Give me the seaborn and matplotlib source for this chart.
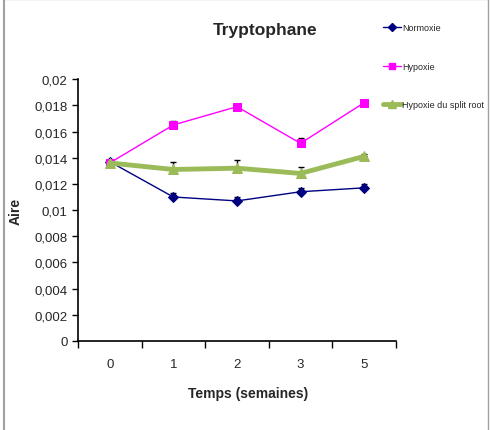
import matplotlib
matplotlib.use("Agg")
import matplotlib.pyplot as plt
import seaborn as sns
import numpy as np
import pandas as pd
from matplotlib.lines import Line2D

# data
semaines = ["0", "1", "2", "3", "5"]
normoxie = [0.0137, 0.0110, 0.0107, 0.0114, 0.0117]
normoxie_err = [0.0001, 0.0003, 0.0003, 0.0003, 0.0003]
hypoxie = [0.0136, 0.0165, 0.0179, 0.0151, 0.0182]
hypoxie_err = [0.0001, 0.0003, 0.0002, 0.0004, 0.0002]
split_root = [0.0136, 0.0131, 0.0132, 0.0128, 0.0141]
split_err = [0.0002, 0.0006, 0.0006, 0.0005, 0.0002]
series_names = ["Normoxie", "Hypoxie", "Hypoxie du split root"]

sns.set_style("white")
plt.rcParams["font.family"] = ["Liberation Sans", "DejaVu Sans"]

fig = plt.figure(figsize=(4.9, 4.31), dpi=100)
ax = fig.add_axes([0.159, 0.2065, 0.649, 0.6075])

pos = np.arange(len(semaines))
styles = [
    (normoxie, normoxie_err, "#000080", "D", 1.0, 5),
    (hypoxie, hypoxie_err, "#FF00FF", "s", 1.0, 6),
    (split_root, split_err, "#9BBB59", "^", 3.5, 7),
]
handles = []
for name, (vals, err, col, mk, lw, ms) in zip(series_names, styles):
    df = pd.DataFrame({"x": pos, "y": vals})
    ax.errorbar(pos, vals, yerr=[np.zeros(len(vals)), err], fmt="none",
                ecolor="black", elinewidth=1, capsize=2.5, capthick=1, zorder=1)
    sns.lineplot(data=df, x="x", y="y", ax=ax, color=col, linewidth=lw,
                 marker=mk, markersize=ms, markeredgecolor=col, zorder=3)
    handles.append(Line2D([0], [0], color=col, linewidth=lw, marker=mk,
                          markersize=ms - 1, markeredgecolor=col, label=name))

ax.set_xlim(-0.5, len(semaines) - 0.5)
ax.set_ylim(0, 0.02)
ax.set_xticks(np.arange(-0.5, len(semaines), 1.0))
ax.set_xticklabels([])
ax.set_xticks(pos, minor=True)
ax.set_xticklabels(semaines, minor=True)
ax.tick_params(axis="x", which="major", direction="out", length=5, width=1, color="black", bottom=True)
ax.tick_params(axis="x", which="minor", length=0, pad=12, labelsize=9.5)
yt = np.arange(0, 0.0201, 0.002)
ax.set_yticks(yt)
ax.set_yticklabels([f"{v:g}".replace(".", ",") if v > 1e-9 else "0" for v in np.round(yt, 3)])
ax.tick_params(axis="y", direction="out", length=4, width=1, color="black", left=True, labelsize=9.5)

for s in ["top", "right"]:
    ax.spines[s].set_visible(False)
for s in ["left", "bottom"]:
    ax.spines[s].set_color("black")
    ax.spines[s].set_linewidth(1.2)

ax.set_xlabel("Temps (semaines)", fontsize=10, fontweight="bold")
ax.xaxis.set_label_coords(0.535, -0.17)
ax.set_ylabel("Aire", fontsize=10, fontweight="bold")
ax.yaxis.set_label_coords(-0.175, 0.5)
fig.text(0.541, 0.93, "Tryptophane", fontsize=12.5, fontweight="bold",
         ha="center", va="center")

fig.legend(handles=handles, loc="upper left", bbox_to_anchor=(0.775, 0.953),
           frameon=False, fontsize=6.5, labelspacing=3.3, handlelength=1.9,
           handletextpad=0.15, borderaxespad=0)

# outer frame of the original picture
fig.add_artist(Line2D([0.008, 0.996], [0.999, 0.999], color="black", linewidth=1.5))
fig.add_artist(Line2D([0.008, 0.008], [0, 1], color="#a0a0a0", linewidth=1.5))
fig.add_artist(Line2D([0.996, 0.996], [0, 1], color="#a0a0a0", linewidth=1.0))

fig.savefig("out.png", dpi=100)
